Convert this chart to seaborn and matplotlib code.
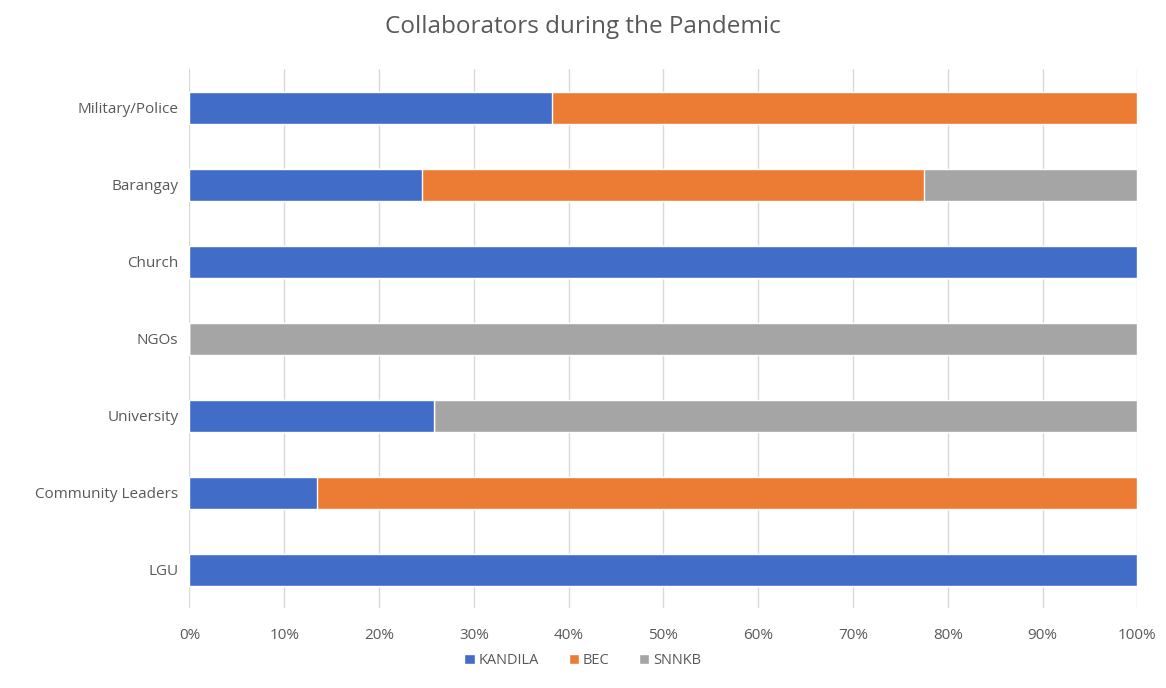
import pandas as pd
import numpy as np
import matplotlib.pyplot as plt
import seaborn as sns
from matplotlib.ticker import PercentFormatter
from matplotlib.patches import Patch

categories = ['Military/Police', 'Barangay', 'Church', 'NGOs', 'University', 'Community Leaders', 'LGU']
kandila = [38.2, 24.5, 100, 0, 25.8, 13.5, 100]
bec = [61.8, 53.0, 0, 0, 0, 86.5, 0]
snnkb = [0, 22.5, 0, 100, 74.2, 0, 0]
series = ['KANDILA', 'BEC', 'SNNKB']
colors = ['#416CC8', '#EC7B34', '#A5A5A5']

df = pd.DataFrame({'cat': categories, 'KANDILA': kandila, 'BEC': bec, 'SNNKB': snnkb})
# cumulative ends for stacking
df['c1'] = df['KANDILA']
df['c2'] = df['c1'] + df['BEC']
df['c3'] = df['c2'] + df['SNNKB']

sns.set_style('white')
plt.rcParams['font.family'] = ['Open Sans', 'DejaVu Sans']
text_col = '#595959'

fig = plt.figure(figsize=(11.66, 6.88), dpi=100)
ax = fig.add_axes([0.1625, 0.1156, 0.813, 0.7834])

for col, c in zip(['c3', 'c2', 'c1'], colors[::-1]):
    sns.barplot(data=df, x=col, y='cat', color=c, orient='h', width=0.42,
                saturation=1, ax=ax, zorder=3)

ax.set_xlim(0, 100)
ax.set_xticks(np.arange(0, 101, 10))
ax.xaxis.set_major_formatter(PercentFormatter(decimals=0))
ax.grid(axis='x', color='#D9D9D9', linewidth=1, zorder=0)
ax.set_axisbelow(True)
for s in ax.spines.values():
    s.set_visible(False)
ax.set_xlabel('')
ax.set_ylabel('')
ax.tick_params(axis='both', length=0, labelsize=11, colors=text_col, pad=14)
ax.tick_params(axis='y', pad=8)

fig.suptitle('Collaborators during the Pandemic', x=0.5, y=0.978, fontsize=17.5, color=text_col)

handles = [Patch(facecolor=c, label=s) for s, c in zip(series, colors)]
fig.legend(handles=handles, loc='center', bbox_to_anchor=(0.5, 0.04), ncol=3, frameon=False,
           fontsize=10.5, labelcolor=text_col, handlelength=0.7, handleheight=0.7,
           handletextpad=0.3, columnspacing=2)

fig.savefig('out.png', dpi=100)
